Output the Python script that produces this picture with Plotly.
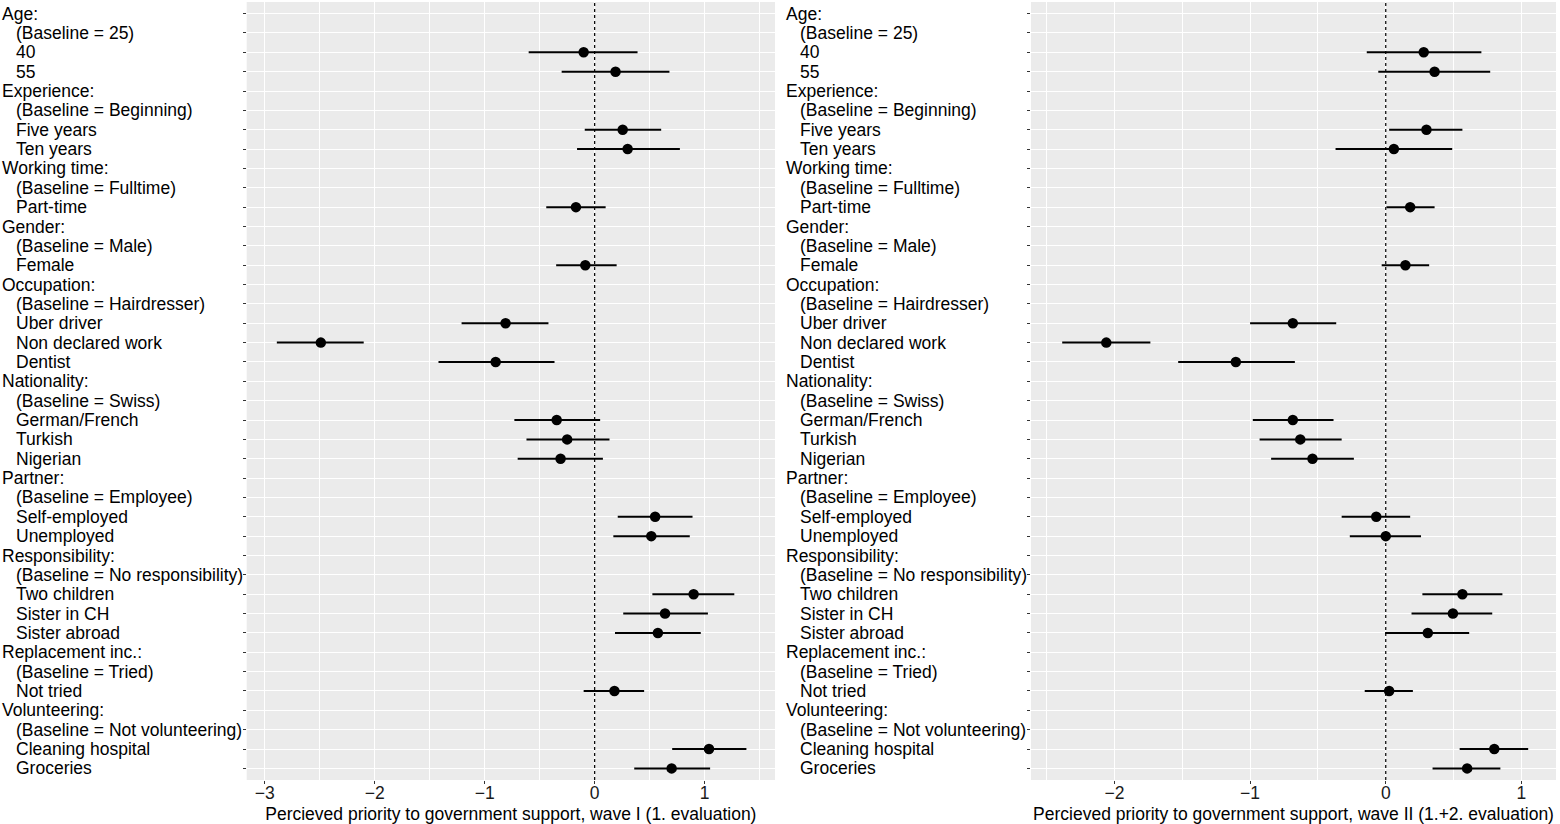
import plotly.graph_objects as go

# row labels, top to bottom (headers have no estimate)
LABELS = [
    "Age:", "(Baseline = 25)", "40", "55",
    "Experience:", "(Baseline = Beginning)", "Five years", "Ten years",
    "Working time:", "(Baseline = Fulltime)", "Part-time",
    "Gender:", "(Baseline = Male)", "Female",
    "Occupation:", "(Baseline = Hairdresser)", "Uber driver", "Non declared work", "Dentist",
    "Nationality:", "(Baseline = Swiss)", "German/French", "Turkish", "Nigerian",
    "Partner:", "(Baseline = Employee)", "Self-employed", "Unemployed",
    "Responsibility:", "(Baseline = No responsibility)", "Two children", "Sister in CH", "Sister abroad",
    "Replacement inc.:", "(Baseline = Tried)", "Not tried",
    "Volunteering:", "(Baseline = Not volunteering)", "Cleaning hospital", "Groceries",
]
HEADERS = {"Age:", "Experience:", "Working time:", "Gender:", "Occupation:", "Nationality:",
           "Partner:", "Responsibility:", "Replacement inc.:", "Volunteering:"}

N = None
# wave I (1. evaluation)
w1_est = [N, N, -0.10, 0.19, N, N, 0.255, 0.30, N, N, -0.17, N, N, -0.085,
          N, N, -0.81, -2.49, -0.90, N, N, -0.345, -0.25, -0.31,
          N, N, 0.55, 0.515, N, N, 0.90, 0.64, 0.575, N, N, 0.18, N, N, 1.04, 0.70]
w1_lo = [N, N, -0.60, -0.30, N, N, -0.09, -0.16, N, N, -0.44, N, N, -0.35,
         N, N, -1.21, -2.89, -1.42, N, N, -0.73, -0.62, -0.70,
         N, N, 0.21, 0.17, N, N, 0.525, 0.26, 0.185, N, N, -0.10, N, N, 0.705, 0.36]
w1_hi = [N, N, 0.39, 0.68, N, N, 0.605, 0.775, N, N, 0.10, N, N, 0.20,
         N, N, -0.42, -2.10, -0.365, N, N, 0.05, 0.135, 0.075,
         N, N, 0.89, 0.865, N, N, 1.27, 1.03, 0.965, N, N, 0.45, N, N, 1.38, 1.05]

# wave II (1.+2. evaluation)
w2_est = [N, N, 0.28, 0.36, N, N, 0.30, 0.06, N, N, 0.18, N, N, 0.145,
          N, N, -0.685, -2.06, -1.105, N, N, -0.685, -0.63, -0.54,
          N, N, -0.07, 0.0, N, N, 0.565, 0.495, 0.31, N, N, 0.025, N, N, 0.80, 0.60]
w2_lo = [N, N, -0.14, -0.055, N, N, 0.025, -0.37, N, N, 0.005, N, N, -0.03,
         N, N, -1.0, -2.385, -1.53, N, N, -0.98, -0.93, -0.845,
         N, N, -0.325, -0.265, N, N, 0.27, 0.19, -0.005, N, N, -0.155, N, N, 0.545, 0.345]
w2_hi = [N, N, 0.705, 0.77, N, N, 0.565, 0.49, N, N, 0.36, N, N, 0.32,
         N, N, -0.365, -1.735, -0.67, N, N, -0.385, -0.325, -0.235,
         N, N, 0.18, 0.26, N, N, 0.86, 0.785, 0.615, N, N, 0.20, N, N, 1.05, 0.845]

TITLE1 = "Percieved priority to government support, wave I (1. evaluation)"
TITLE2 = "Percieved priority to government support, wave II (1.+2. evaluation)"

FONT = "Liberation Sans, Arial, sans-serif"
FS = 17.5
W, H = 1560, 824
rows = list(range(len(LABELS)))


def err(est, lo, hi):
    plus = [None if e is None else h - e for e, h in zip(est, hi)]
    minus = [None if e is None else e - l for e, l in zip(est, lo)]
    return plus, minus


fig = go.Figure()
for est, lo, hi, xa, ya in [(w1_est, w1_lo, w1_hi, "x", "y"), (w2_est, w2_lo, w2_hi, "x2", "y2")]:
    plus, minus = err(est, lo, hi)
    fig.add_trace(go.Scatter(
        x=est, y=rows, mode="markers", xaxis=xa, yaxis=ya,
        marker=dict(color="black", size=10.5),
        error_x=dict(type="data", symmetric=False, array=plus, arrayminus=minus,
                     color="black", thickness=2, width=0),
        showlegend=False, hoverinfo="skip",
    ))

# panel geometry in pixels
y_bot, y_top = 780.0, 2.0
dom_y = [(H - y_bot) / H, (H - y_top) / H]
panels = [
    dict(x0=246.7, x1=775.0, rng=[-3.164, 1.64], lab_x=-0.5, title=TITLE1, ax="xaxis", ay="yaxis", yr="y", xr="x"),
    dict(x0=1031.0, x1=1556.0, rng=[-2.615, 1.255], lab_x=784.0, title=TITLE2, ax="xaxis2", ay="yaxis2", yr="y2", xr="x2"),
]

axis_common = dict(
    showgrid=True, gridcolor="white", gridwidth=1.3, zeroline=False, showline=False,
    ticks="outside", ticklen=3, tickcolor="#333333", tickwidth=1,
)

fig.update_layout(template="none")
layout = dict(
    width=W, height=H, margin=dict(l=0, r=0, t=0, b=0),
    paper_bgcolor="white", plot_bgcolor="#EBEBEB",
    font=dict(family=FONT, size=FS, color="black"),
    showlegend=False,
)
annotations = []
shapes = []
for p in panels:
    layout[p["ax"]] = dict(
        axis_common,
        domain=[p["x0"] / W, p["x1"] / W], range=p["rng"], anchor=p["yr"],
        tickmode="linear", tick0=0, dtick=1, automargin=False,
        ticklabelstandoff=-6,
        tickfont=dict(family=FONT, size=FS, color="#1a1a1a"),
        minor=dict(dtick=0.5, tick0=0, showgrid=True, gridcolor="white", gridwidth=0.6, ticks=""),
        title=dict(text=p["title"], font=dict(family=FONT, size=FS, color="black"), standoff=9),
    )
    layout[p["ay"]] = dict(
        axis_common,
        domain=dom_y, range=[len(LABELS) - 0.4, -0.6], anchor=p["xr"],
        tickmode="array", tickvals=rows, ticktext=[""] * len(rows), automargin=False,
    )
    for i, lab in enumerate(LABELS):
        indent = 0 if lab in HEADERS else 14
        annotations.append(dict(
            x=(p["lab_x"] + indent) / W, xref="paper", xanchor="left",
            y=i, yref=p["yr"], yanchor="middle", text=lab, showarrow=False,
            font=dict(family=FONT, size=FS, color="black"),
        ))
    shapes.append(dict(
        type="line", xref=p["xr"], x0=0, x1=0, yref=p["yr"] + " domain", y0=0, y1=1,
        line=dict(color="black", width=1.2, dash="dot"),
    ))

layout["annotations"] = annotations
layout["shapes"] = shapes
fig.update_layout(**layout)

fig.write_html(
    "out.html",
    config={"displayModeBar": False},
    post_script="document.body.style.margin='0';document.body.style.overflow='hidden';",
)
